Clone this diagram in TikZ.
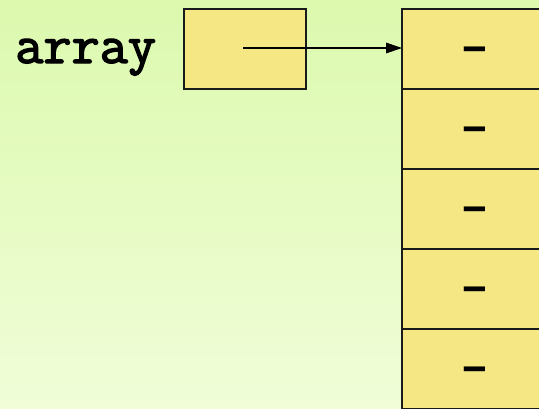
\documentclass[tikz,border=0pt]{standalone}
\usepackage{fontspec}
\newfontfamily\slabtt[FakeBold=2.5]{Latin Modern Mono}
\newfontfamily\dashtt{Liberation Mono}
\usetikzlibrary{arrows.meta}
\definecolor{bgtop}{HTML}{DCF9AE}
\definecolor{bgbot}{HTML}{F0FDD8}
\definecolor{cellfill}{HTML}{F4E784}
\definecolor{edge}{HTML}{1A1A1A}
\tikzset{
  cell/.style={draw=edge, line width=1.5pt, fill=cellfill},
  cellmark/.style={font=\dashtt\bfseries\fontsize{36}{36}\selectfont, inner sep=0pt, anchor=base},
  varname/.style={font=\slabtt\fontsize{41}{41}\selectfont, inner sep=0pt, anchor=base west},
  ptr/.style={line width=0.8pt, -{Triangle[length=12pt,width=8pt]}}
}
\begin{document}
\begin{tikzpicture}[x=0.75pt, y=-0.75pt]
  % page with vertical gradient
  \shade[top color=bgtop, bottom color=bgbot] (0,0) rectangle (539,408);
  \useasboundingbox (0,0) rectangle (539,408);
  % the variable and its reference cell
  \node[varname] (lbl) at (15,63) {array};
  \draw[cell] (184,9) rectangle (306,89);
  \coordinate (ref) at (243,48);
  % array cells, running off the right and bottom edges
  \foreach \i in {0,...,4} {
    \draw[cell] (402,9+80*\i) rectangle (548,89+80*\i);
    \node[cellmark] (c\i) at (475,61+80*\i) {–};
  }
  \coordinate (head) at (402,48);
  \draw[ptr] (ref) -- (head);
\end{tikzpicture}
\end{document}
